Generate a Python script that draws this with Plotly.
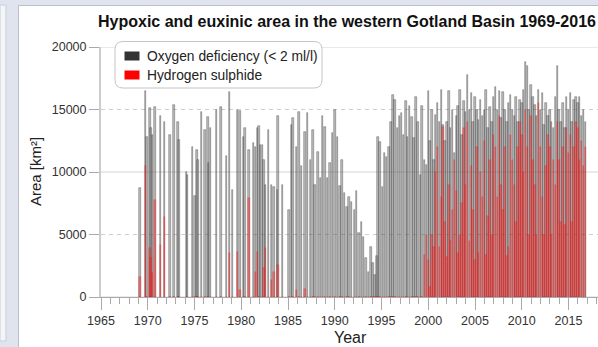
import plotly.graph_objects as go

# ---------------------------------------------------------------------------
# Monitoring cruises: sampling date (decimal year), area with O2 < 2 ml/l and
# area with hydrogen sulphide (km²), western Gotland Basin.
# ---------------------------------------------------------------------------
dates_1969_1984 = [1969.17, 1969.78, 1969.9, 1970.24, 1970.34, 1970.5, 1970.78, 1971.39, 1971.8,
                   1972.38, 1972.81, 1973.24, 1973.34, 1974.17, 1974.27, 1974.8, 1975.05, 1975.27,
                   1975.35, 1975.77, 1976.12, 1976.44, 1976.5, 1976.73, 1977.37, 1977.83, 1978.44,
                   1978.72, 1979.07, 1979.6, 1979.86, 1980.22, 1980.4, 1980.83, 1981.29, 1981.55,
                   1981.76, 1981.9, 1982.07, 1982.25, 1982.43, 1982.6, 1982.9, 1983.25, 1983.5,
                   1983.89, 1983.95, 1984.42]
oxygen_1969_1984 = [8700, 16500, 12800, 15100, 13500, 13000, 15200, 14500, 14000,
                    13000, 15400, 14000, 12600, 10000, 9800, 12000, 8100, 11800,
                    11000, 14800, 13400, 14400, 10700, 13500, 15000, 15200, 11300,
                    16400, 8600, 15000, 14900, 12800, 13500, 11800, 12300, 12000,
                    13500, 13700, 12200, 12200, 11000, 9000, 13400, 9000, 8800,
                    8600, 14500, 9000]
sulphide_1969_1984 = [1600, 10500, 0, 3900, 3100, 1900, 7800, 4200, 6400,
                      0, 0, 0, 0, 0, 0, 0, 0, 0,
                      0, 0, 0, 0, 0, 0, 0, 0, 0,
                      3500, 0, 3600, 560, 0, 0, 7900, 0, 2000,
                      3600, 0, 0, 0, 2300, 3900, 0, 1400, 2000,
                      0, 2600, 0]

dates_1985_1999 = [1985.1, 1985.35, 1985.55, 1985.9, 1986.15, 1986.45, 1986.8,
                   1987.1, 1987.4, 1987.65, 1987.9, 1988.2, 1988.45, 1988.7, 1988.95,
                   1989.25, 1989.5, 1989.75, 1990.0, 1990.3, 1990.55, 1990.8,
                   1991.05, 1991.3, 1991.55, 1991.8, 1992.1, 1992.35, 1992.6, 1992.85,
                   1993.1, 1993.35, 1993.6, 1993.85, 1994.1, 1994.3, 1994.5, 1994.62, 1994.85,
                   1995.1, 1995.3, 1995.55, 1995.8, 1996.0, 1996.25, 1996.45, 1996.7, 1996.9,
                   1997.15, 1997.35, 1997.6, 1997.8, 1998.0, 1998.25, 1998.45, 1998.7, 1998.9,
                   1999.15, 1999.35, 1999.6, 1999.8]
oxygen_1985_1999 = [7000, 13800, 14300, 12000, 14800, 10500, 13200,
                    14700, 11000, 13400, 9000, 11600, 9500, 14500, 13600,
                    9500, 10700, 13100, 15000, 12800, 8900, 11000,
                    8300, 7200, 8000, 7600, 7000, 8500, 5100, 6000,
                    4800, 3100, 2000, 4000, 2700, 1800, 3300, 12800, 12400,
                    8800, 11500, 11200, 12000, 14000, 16200, 15800, 13500, 14500,
                    14700, 13000, 15700, 12800, 15300, 14400, 12700, 16000, 14000,
                    9800, 15300, 11000, 10600]
sulphide_1985_1999 = [0, 0, 0, 560, 0, 0, 640,
                      0, 0, 0, 0, 0, 0, 0, 0,
                      0, 0, 0, 0, 0, 0, 0,
                      0, 0, 0, 0, 0, 0, 0, 0,
                      0, 0, 0, 0, 0, 0, 0, 0, 0,
                      0, 0, 0, 0, 0, 0, 0, 0, 0,
                      0, 0, 0, 0, 0, 0, 0, 0, 0,
                      0, 0, 3400, 5000]

dates_2000_2016 = [2000.0, 2000.2, 2000.4, 2000.6, 2000.8, 2001.0, 2001.2, 2001.4, 2001.6, 2001.8,
                   2002.0, 2002.2, 2002.4, 2002.6, 2002.8, 2003.0, 2003.2, 2003.4, 2003.6, 2003.8,
                   2004.0, 2004.2, 2004.4, 2004.6, 2004.8, 2005.0, 2005.2, 2005.4, 2005.6, 2005.8,
                   2006.0, 2006.2, 2006.4, 2006.6, 2006.8, 2007.0, 2007.2, 2007.4, 2007.6, 2007.8,
                   2008.0, 2008.2, 2008.4, 2008.6, 2008.8, 2009.0, 2009.2, 2009.4, 2009.6, 2009.8,
                   2010.0, 2010.2, 2010.4, 2010.6, 2010.8, 2011.0, 2011.2, 2011.4, 2011.6, 2011.8,
                   2012.0, 2012.2, 2012.4, 2012.6, 2012.8, 2013.0, 2013.2, 2013.4, 2013.6, 2013.8,
                   2014.0, 2014.2, 2014.4, 2014.6, 2014.8, 2015.0, 2015.2, 2015.4, 2015.6, 2015.8,
                   2016.0, 2016.2, 2016.4, 2016.6, 2016.8]
oxygen_2000_2016 = [16500, 12500, 15000, 11000, 14600, 15500, 14000, 16600, 13800, 12500,
                    14000, 16500, 13500, 15000, 11500, 14500, 15300, 16600, 13000, 15700,
                    14800, 17800, 15000, 16300, 14000, 16000, 15000, 14200, 15800, 14500,
                    15000, 16600, 13500, 15200, 14000, 16000, 16800, 15000, 16500, 14300,
                    16400, 15000, 14000, 15500, 16200, 15000, 14500, 16000, 14000, 15800,
                    15500, 16600, 18800, 18500, 15000, 17000, 16000, 15400, 14500, 16600,
                    15000, 16300, 13800, 15500, 14500, 15000, 14000, 13500, 16000, 18500,
                    15000, 14000, 15500, 13500, 16000, 15000, 16300, 14000, 15800, 16000,
                    15500, 16000, 14500, 15000, 14000]
sulphide_2000_2016 = [3000, 800, 5000, 4000, 10000, 12000, 4000, 8000, 13600, 6000,
                      3200, 9000, 4500, 7000, 11000, 8500, 3500, 5000, 7500, 13500,
                      9000, 14000, 4500, 10500, 7000, 3000, 12000, 3500, 10000, 8000,
                      12500, 3400, 6500, 11000, 5000, 13000, 12000, 8000, 14500, 9000,
                      7000, 12000, 3300, 4000, 13000, 11000, 9000, 6000, 12000, 14000,
                      13000, 10000, 15000, 12000, 5000, 14500, 11000, 9000, 5000, 15500,
                      12000, 8000, 5000, 10500, 13000, 12000, 5000, 11000, 9000, 14000,
                      11000, 6000, 12000, 5800, 13500, 11500, 13000, 6000, 12000, 14000,
                      13500, 11000, 12500, 10500, 12000]

sample_dates = dates_1969_1984 + dates_1985_1999 + dates_2000_2016
oxygen_area = oxygen_1969_1984 + oxygen_1985_1999 + oxygen_2000_2016
sulphide_area = sulphide_1969_1984 + sulphide_1985_1999 + sulphide_2000_2016

y_ticks = [0, 5000, 10000, 15000, 20000]
x_ticks = [1965, 1970, 1975, 1980, 1985, 1990, 1995, 2000, 2005, 2010, 2015]

TITLE = "Hypoxic and euxinic area in the western Gotland Basin 1969-2016"
FONT = "Arial, 'Liberation Sans', Helvetica, sans-serif"

# page geometry (pixels)
W, H = 598, 347
L, R, T, B = 101, 0, 47, 50
PW, PH = W - L - R, H - T - B
PX_PER_YEAR = 9.35
BAR_WIDTH = 0.16  # years


def px_x(px):
    return (px - L) / PW


def px_y(py):
    return (H - B - py) / PH


fig = go.Figure()

fig.add_trace(go.Bar(
    x=sample_dates, y=oxygen_area, width=BAR_WIDTH,
    marker=dict(color="rgba(120,120,120,0.5)", line=dict(color="rgba(55,55,55,0.6)", width=0.6)),
    showlegend=False, name="Oxygen deficiency (< 2 ml/l)",
))
fig.add_trace(go.Bar(
    x=sample_dates, y=sulphide_area, width=BAR_WIDTH,
    marker=dict(color="rgba(255,30,30,0.4)", line=dict(color="rgba(255,0,0,0.45)", width=0.5)),
    showlegend=False, name="Hydrogen sulphide",
))

shapes = []

# horizontal grid: solid at 0/10000/20000, dashed in between
for v in y_ticks:
    solid = v % 10000 == 0
    shapes.append(dict(type="line", xref="paper", yref="y", x0=0, x1=1, y0=v, y1=v,
                       line=dict(color="#d4d4d4" if solid else "#cfcfcf", width=1,
                                 dash="solid" if solid else "4px,4px"),
                       layer="below"))

# page frame: light blue-grey side strip and top band
blue = "#dfe4ee"
shapes += [
    dict(type="rect", xref="paper", yref="paper", x0=px_x(0), x1=px_x(18.5), y0=px_y(H), y1=px_y(0),
         fillcolor=blue, line=dict(width=0), layer="below"),
    dict(type="rect", xref="paper", yref="paper", x0=px_x(0), x1=px_x(W), y0=px_y(5), y1=px_y(0),
         fillcolor=blue, line=dict(width=0), layer="below"),
    dict(type="rect", xref="paper", yref="paper", x0=px_x(0), x1=px_x(6), y0=px_y(341), y1=px_y(5),
         fillcolor="#f4f5f8", line=dict(color="#c9ced8", width=1), layer="below"),
    dict(type="line", xref="paper", yref="paper", x0=px_x(18.5), x1=px_x(18.5), y0=px_y(H), y1=px_y(5),
         line=dict(color="#b9bec8", width=1), layer="below"),
    dict(type="line", xref="paper", yref="paper", x0=px_x(18.5), x1=px_x(W), y0=px_y(5.5), y1=px_y(5.5),
         line=dict(color="#b9bec8", width=1), layer="below"),
]

# legend box with rounded corners
lx0, lx1, ly0, ly1, rr = 115, 322, 41.5, 88, 8
path = (f"M {px_x(lx0 + rr)} {px_y(ly0)} L {px_x(lx1 - rr)} {px_y(ly0)} "
        f"Q {px_x(lx1)} {px_y(ly0)} {px_x(lx1)} {px_y(ly0 + rr)} "
        f"L {px_x(lx1)} {px_y(ly1 - rr)} Q {px_x(lx1)} {px_y(ly1)} {px_x(lx1 - rr)} {px_y(ly1)} "
        f"L {px_x(lx0 + rr)} {px_y(ly1)} Q {px_x(lx0)} {px_y(ly1)} {px_x(lx0)} {px_y(ly1 - rr)} "
        f"L {px_x(lx0)} {px_y(ly0 + rr)} Q {px_x(lx0)} {px_y(ly0)} {px_x(lx0 + rr)} {px_y(ly0)} Z")
shapes.append(dict(type="path", xref="paper", yref="paper", path=path,
                   fillcolor="white", line=dict(color="#c4c4c4", width=1), layer="above"))

legend_items = [("Oxygen deficiency (< 2 ml/l)", "#333333", 56), ("Hydrogen sulphide", "#ff0000", 75)]
annotations = []
for label, color, cy in legend_items:
    shapes.append(dict(type="rect", xref="paper", yref="paper",
                       x0=px_x(124.5), x1=px_x(139.5), y0=px_y(cy + 4.5), y1=px_y(cy - 4.5),
                       fillcolor=color, line=dict(width=0), layer="above"))
    annotations.append(dict(xref="paper", yref="paper", x=px_x(145), y=px_y(cy), text=label,
                            showarrow=False, xanchor="left", yanchor="middle",
                            font=dict(family=FONT, size=13.8, color="#222")))

# title and axis titles
annotations += [
    dict(xref="paper", yref="paper", x=px_x(347), y=px_y(22), text=f"<b>{TITLE}</b>",
         showarrow=False, xanchor="center", yanchor="middle",
         font=dict(family=FONT, size=16, color="#111")),
    dict(xref="paper", yref="paper", x=px_x(35), y=px_y(172), text="Area [km²]", textangle=-90,
         showarrow=False, xanchor="center", yanchor="middle",
         font=dict(family=FONT, size=15, color="#222")),
    dict(xref="paper", yref="paper", x=px_x(350), y=px_y(337), text="Year",
         showarrow=False, xanchor="center", yanchor="middle",
         font=dict(family=FONT, size=16, color="#222")),
]

fig.update_layout(
    width=W, height=H,
    margin=dict(l=L, r=R, t=T, b=B, pad=0),
    paper_bgcolor="white", plot_bgcolor="rgba(0,0,0,0)",
    barmode="overlay", bargap=0,
    shapes=shapes, annotations=annotations,
    showlegend=False,
)

fig.update_xaxes(
    range=[1965, 1965 + PW / PX_PER_YEAR], tickmode="array", tickvals=x_ticks,
    ticktext=[str(t) for t in x_ticks], ticks="outside", ticklen=12, tickcolor="#aaaaaa",
    tickfont=dict(family=FONT, size=12.5, color="#333"),
    minor=dict(dtick=1, tick0=1965, ticks="outside", ticklen=6, tickcolor="#aaaaaa", showgrid=False),
    showgrid=False, zeroline=False, showline=True, linecolor="#aaaaaa", linewidth=1,
)
fig.update_yaxes(
    range=[0, 20000], tickmode="array", tickvals=y_ticks, ticktext=[str(t) for t in y_ticks],
    ticks="outside", ticklen=10, tickcolor="#aaaaaa",
    tickfont=dict(family=FONT, size=12.5, color="#333"),
    showgrid=False, zeroline=False, showline=True, linecolor="#cccccc", linewidth=2,
)

fig.write_html("out.html")
